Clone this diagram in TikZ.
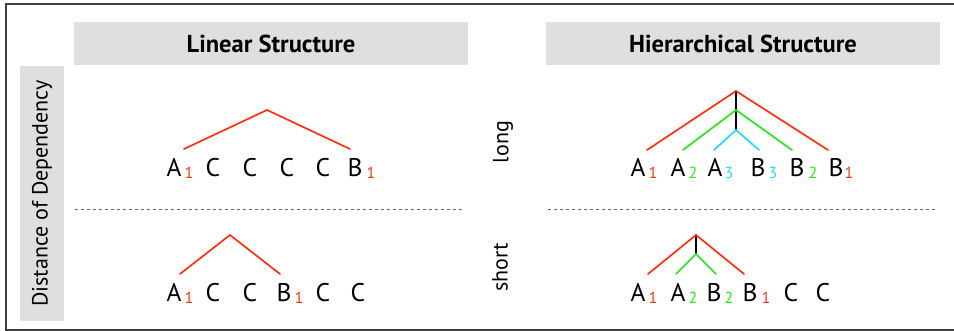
\documentclass[tikz,border=0pt]{standalone}
\usepackage{fontspec}
\setmainfont{PT Sans}
\definecolor{depred}{RGB}{255,48,16}
\definecolor{depgreen}{RGB}{40,230,30}
\definecolor{depcyan}{RGB}{30,220,250}
\definecolor{hdrgray}{RGB}{223,223,223}
\begin{document}
\begin{tikzpicture}[x=1pt,y=-1pt,
  sym/.style={font=\fontsize{25.5}{25.5}\selectfont,anchor=base,inner sep=0pt},
  idx/.style={font=\fontsize{16}{16}\selectfont,anchor=base,inner sep=0pt},
  arc/.style={line width=1.7pt,line cap=round},
  header/.style={fill=hdrgray,minimum width=394pt,minimum height=43pt,font=\fontsize{24.5}{24.5}\selectfont\bfseries},
  side/.style={rotate=90,font=\fontsize{22}{22}\selectfont}]
\useasboundingbox (0,0) rectangle (954,331);
\draw[line width=1.5pt,black!75] (6,4) rectangle (964,330);

\node[header] (linhdr) at (271,43.5) {Linear Structure};
\node[header] (hierhdr) at (743,43.5) {Hierarchical Structure};
\node[side,fill=hdrgray,minimum width=255pt,minimum height=44pt] (dist) at (42,193.5) {Distance of Dependency};
\node[side] (long) at (503,142) {long};
\node[side] (short) at (500,267) {short};

\draw[dashed,black!60,line width=0.9pt,dash pattern=on 3pt off 3pt] (75,209) -- (464,209);
\draw[dashed,black!60,line width=0.9pt,dash pattern=on 3pt off 3pt] (548,209) -- (937,209);

% linear, long
\node[sym] (la1) at (174,177) {A};
\node[idx,depred] (la1i) at (189,179) {1};
\node[sym] (lc1) at (213,177) {C};
\node[sym] (lc2) at (250,177) {C};
\node[sym] (lc3) at (287,177) {C};
\node[sym] (lc4) at (323,177) {C};
\node[sym] (lb1) at (355,177) {B};
\node[idx,depred] (lb1i) at (371,179) {1};
\coordinate (ltop) at (267,110);
\coordinate (lleft) at (184,149);
\coordinate (lright) at (350,149);
\draw[arc,depred] (lleft) -- (ltop) -- (lright);

% linear, short
\node[sym] (sa1) at (174,302) {A};
\node[idx,depred] (sa1i) at (189,304) {1};
\node[sym] (sc1) at (213,302) {C};
\node[sym] (sc2) at (250,302) {C};
\node[sym] (sb1) at (284,302) {B};
\node[idx,depred] (sb1i) at (299,304) {1};
\node[sym] (sc3) at (323,302) {C};
\node[sym] (sc4) at (358,302) {C};
\coordinate (stop) at (230,235);
\coordinate (sleft) at (180,274);
\coordinate (sright) at (280,274);
\draw[arc,depred] (sleft) -- (stop) -- (sright);

% hierarchical, long
\node[sym] (ha1) at (638,177) {A};
\node[idx,depred] (ha1i) at (653,179) {1};
\node[sym] (ha2) at (678,177) {A};
\node[idx,depgreen] (ha2i) at (693,179) {2};
\node[sym] (ha3) at (715,177) {A};
\node[idx,depcyan] (ha3i) at (729,179) {3};
\node[sym] (hb3) at (758,177) {B};
\node[idx,depcyan] (hb3i) at (773,179) {3};
\node[sym] (hb2) at (797,177) {B};
\node[idx,depgreen] (hb2i) at (813,179) {2};
\node[sym] (hb1) at (836,177) {B};
\node[idx,depred] (hb1i) at (849,179) {1};
\coordinate (htop1) at (736,91);
\coordinate (htop2) at (736,110);
\coordinate (htop3) at (736,130);
\coordinate (hl1) at (647,150);
\coordinate (hr1) at (828,150);
\coordinate (hl2) at (683,150);
\coordinate (hr2) at (792,150);
\coordinate (hl3) at (714,150);
\coordinate (hr3) at (759,150);
\draw[arc,black] (htop1) -- (htop3);
\draw[arc,depred] (hl1) -- (htop1) -- (hr1);
\draw[arc,depgreen] (hl2) -- (htop2) -- (hr2);
\draw[arc,depcyan] (hl3) -- (htop3) -- (hr3);

% hierarchical, short
\node[sym] (ka1) at (638,302) {A};
\node[idx,depred] (ka1i) at (653,304) {1};
\node[sym] (ka2) at (678,302) {A};
\node[idx,depgreen] (ka2i) at (693,304) {2};
\node[sym] (kb2) at (714,302) {B};
\node[idx,depgreen] (kb2i) at (729,304) {2};
\node[sym] (kb1) at (750,302) {B};
\node[idx,depred] (kb1i) at (766,304) {1};
\node[sym] (kc1) at (791,302) {C};
\node[sym] (kc2) at (823,302) {C};
\coordinate (ktop1) at (696,235);
\coordinate (ktop2) at (696,254);
\coordinate (kl1) at (648,274);
\coordinate (kr1) at (744,274);
\coordinate (kl2) at (676,274);
\coordinate (kr2) at (716,274);
\draw[arc,black] (ktop1) -- (ktop2);
\draw[arc,depred] (kl1) -- (ktop1) -- (kr1);
\draw[arc,depgreen] (kl2) -- (ktop2) -- (kr2);
\end{tikzpicture}
\end{document}
